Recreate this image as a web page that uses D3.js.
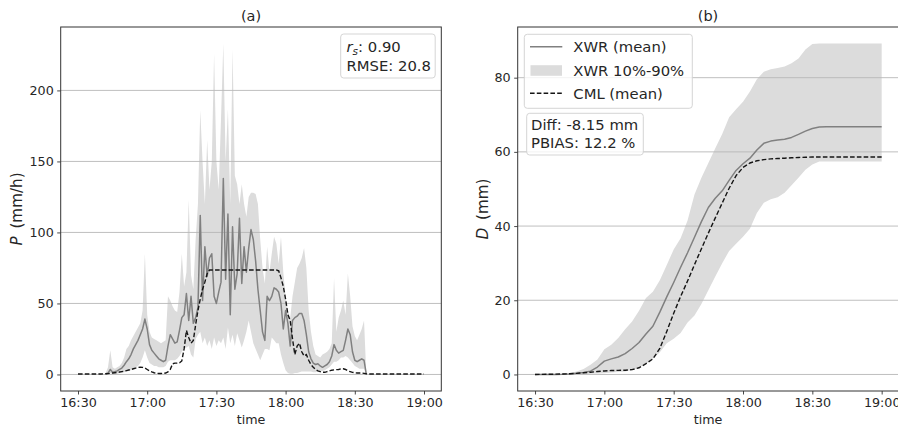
<!DOCTYPE html>
<html><head><meta charset="utf-8">
<script src="https://cdn.jsdelivr.net/npm/d3@7"></script>
<style>
body{margin:0;background:#fff}
svg{display:block}
text{font-family:"DejaVu Sans",sans-serif;fill:#262626}
</style>
</head><body>
<svg id="chart" width="898" height="429"></svg>
<script>
// ---------- DATA ----------
// x categories: minutes after 16:30
const xTickMinutes = [0, 30, 60, 90, 120, 150];
const xTickLabels = ["16:30", "17:00", "17:30", "18:00", "18:30", "19:00"];
const yTicksA = [0, 50, 100, 150, 200];
const yTicksB = [0, 20, 40, 60, 80];

// Panel (a): 1-minute rain rate (mm/h), minutes 0..150
const aMinutes = d3.range(0, 151);
const aXwrMean = [null,null,null,null,null,null,null,null,null,null,null,null,
  0.3,1,3.5,1.5,2,2.5,3.5,4.5,6.5,9,
  11,14,18,21,24,28,32,39,32,21,
  17,15,13,11,10,9,10,20,28,25,
  22,23,31,40,42,57,38,55,36,40,
  47,112,52,90,69,82,85,55,50,58,
  65,138,67,113,42,104,60,71,110,64,
  90,72,89,102,95,80,60,45,30,24,
  55,52,55,61,60,58,50,32,45,36,
  20,38,40,41,43,43,38,28,16,11,
  8,7,7.5,6,5,6,7,9,13,21,
  17,15,16,17,24,32,28,16,10,9,
  10,11,10,0,
  null,null,null,null,null,null,null,null,null,null,null,null,null,null,null,null,null,null,null,null,null,null,null,null,null];
const aXwrP90 = [null,null,null,null,null,null,null,null,null,null,null,null,
  1,5,17,5,4,5,6,8,12,18,
  20,24,27,30,33,36,45,85,42,30,
  26,25,24,23,22,23,24,55,52,48,
  45,44,58,85,62,72,123,70,60,95,
  120,186,150,120,165,130,150,226,150,130,
  180,233,150,187,120,229,140,134,120,134,
  120,111,125,128,128,127,120,95,75,64,
  90,72,85,97,92,78,97,72,55,45,
  40,55,65,75,78,82,89,75,45,30,
  20,14,13,12,14,15,16,18,22,68,
  30,40,45,52,42,71,55,34,27,24,
  28,32,38,0,
  null,null,null,null,null,null,null,null,null,null,null,null,null,null,null,null,null,null,null,null,null,null,null,null,null];
const aXwrP10 = [null,null,null,null,null,null,null,null,null,null,null,null,
  0,0.3,1,0.5,0.5,0.5,1,1,1.5,2,
  2.5,3,4,5,6,8,12,17,12,8,
  7,6,6,5,5,5,6,9,10,10,
  10,11,13,16,18,19,20,14,12,25,
  28,30,22,26,20,24,18,26,20,24,
  22,26,18,33,22,28,20,29,24,19,
  24,30,38,30,22,18,14,10,14,18,
  18,17,26,24,22,22,14,8,3,1,
  0.5,0.5,1,1,1.5,2,2,2,2,2,
  1.5,1.5,2,2,2.5,3,4,5,7,9,
  9,10,12,12,13,12,10,8,6,5,
  4,4,4,0,
  null,null,null,null,null,null,null,null,null,null,null,null,null,null,null,null,null,null,null,null,null,null,null,null,null];
const aCmlMean = [0.3,0.3,0.3,0.3,0.3,0.3,0.3,0.3,0.3,0.3,0.3,
  0.4,0.5,0.6,0.8,1.0,1.2,1.4,1.7,2.0,2.3,
  2.7,3.1,3.5,4.0,4.5,4.9,5.1,5.0,4.5,3.5,
  2.5,1.8,1.2,0.8,0.7,0.7,0.8,1.0,1.8,3.5,
  7.5,8.0,8.0,8.2,9.5,18,31,26,22,24,
  35,45,53,60,65,71,73.5,
  73.5,73.5,73.5,73.5,73.5,73.5,73.5,73.5,73.5,73.5,
  73.5,73.5,73.5,73.5,73.5,73.5,73.5,73.5,73.5,73.5,
  73.5,73.5,73.5,73.5,73.5,73.5,73.5,73.5,73.5,
  73,68,62,53,42,38,25,14,20,22,
  16,13,14,10,7,5,3.5,2.5,2,1.5,
  1.5,2,2.5,3,3.2,3.4,3.5,4,4,3.5,
  2.5,2,1.5,1.2,1,1,1,0.8,0.5,
  0.3,0.3,0.3,0.3,0.3,0.3,0.3,0.3,0.3,0.3,0.3,0.3,0.3,0.3,0.3,0.3,0.3,0.3,0.3,0.3,0.3,0.3,0.3,0.3,0.3];

// Panel (b): accumulated depth (mm), every 3 minutes 0..150
const bMinutes = d3.range(0, 151, 3);
const bXwrMean = [0,0,0,0,0.05,0.15,0.3,0.5,0.9,2.0,
  3.6,4.2,4.7,5.6,7.0,8.6,10.9,13.0,16.8,20.9,
  24.8,28.9,32.8,37.0,41.2,45.0,47.5,49.5,52.3,55.0,
  56.8,58.3,60.5,62.3,62.9,63.2,63.4,63.9,64.7,65.6,
  66.3,66.7,66.8,66.8,66.8,66.8,66.8,66.8,66.8,66.8,66.8];
const bXwrP90 = [0,0,0,0,0.1,0.4,0.8,1.5,2.6,4.0,
  6.8,8.0,9.8,12.2,14.3,17.2,20.6,22.3,25.4,29.5,
  33.7,36.7,41.5,48.5,53.0,57.0,61.0,64.8,69.3,71.5,
  73.5,76.3,79.6,81.6,82.3,82.6,83.0,83.9,85.2,87.6,
  89.1,89.2,89.2,89.2,89.2,89.2,89.2,89.2,89.2,89.2,89.2];
const bXwrP10 = [0,0,0,0,0,0.05,0.1,0.15,0.2,0.25,
  0.35,0.5,0.65,0.8,1.2,1.8,2.8,4.2,6.0,8.4,
  9.6,11.2,14.0,15.9,19.0,22.7,26.4,30.0,33.3,35.2,
  37.1,39.3,43.5,46.3,47.2,47.8,49.0,51.0,53.0,55.2,
  56.6,57.4,57.4,57.4,57.4,57.4,57.4,57.4,57.4,57.4,57.4];
const bCmlMean = [0,0.03,0.05,0.08,0.12,0.2,0.3,0.45,0.6,0.8,
  0.95,1.05,1.1,1.15,1.3,1.8,2.9,4.2,7.0,11.6,
  16.5,21.0,25.2,29.6,33.9,38.1,42.2,46.2,50.2,53.6,
  55.8,57.0,57.6,57.9,58.1,58.2,58.3,58.4,58.5,58.55,
  58.6,58.6,58.6,58.6,58.6,58.6,58.6,58.6,58.6,58.6,58.6];

const statsA = {rs: "0.90", rmse: "20.8"};
const statsB = ["Diff: -8.15 mm", "PBIAS: 12.2 %"];
const legendLabels = ["XWR (mean)", "XWR 10%-90%", "CML (mean)"];

// ---------- STYLE ----------
const bandColor = "#dcdcdc", meanColor = "#808080", cmlColor = "#151515";
const gridColor = "#b8b8b8", spineColor = "#333";
const svg = d3.select("#chart");

function panel(opt) {
  const {x, y, yTicks, minutes, mean, lo, hi, cml, id} = opt;
  const [x0, x1] = x.range(); const [y1, y0] = y.range();
  const g = svg.append("g");
  g.append("clipPath").attr("id", id).append("rect")
    .attr("x", x0).attr("y", y0).attr("width", x1 - x0).attr("height", y1 - y0);
  const body = g.append("g").attr("clip-path", `url(#${id})`);
  const rows = minutes.map((m, i) => ({m, mean: mean[i], lo: lo[i], hi: hi[i], cml: cml[i]}));
  body.append("path").datum(rows)
    .attr("d", d3.area().defined(d => d.hi != null).x(d => x(d.m)).y0(d => y(d.lo)).y1(d => y(d.hi)))
    .attr("fill", bandColor);
  body.selectAll("line.grid").data(yTicks).join("line").attr("class", "grid")
    .attr("x1", x0).attr("x2", x1).attr("y1", d => y(d)).attr("y2", d => y(d))
    .attr("stroke", gridColor).attr("stroke-width", 0.9);
  body.append("path").datum(rows)
    .attr("d", d3.line().defined(d => d.mean != null).x(d => x(d.m)).y(d => y(d.mean)))
    .attr("fill", "none").attr("stroke", meanColor).attr("stroke-width", 1.5).attr("stroke-linejoin", "round");
  body.append("path").datum(rows)
    .attr("d", d3.line().x(d => x(d.m)).y(d => y(d.cml)))
    .attr("fill", "none").attr("stroke", cmlColor).attr("stroke-width", 1.4).attr("stroke-dasharray", "4.6,2.2");
  // axes
  const ax = g.append("g").attr("transform", `translate(0,${y1})`)
    .call(d3.axisBottom(x).tickValues(xTickMinutes).tickFormat((d, i) => xTickLabels[i]).tickSize(3.5).tickPadding(3.5));
  const ay = g.append("g").attr("transform", `translate(${x0},0)`)
    .call(d3.axisLeft(y).tickValues(yTicks).tickSize(3.5).tickPadding(3.5));
  [ax, ay].forEach(a => {
    a.select(".domain").remove();
    a.selectAll(".tick line").attr("stroke", spineColor).attr("stroke-width", 0.9);
    a.selectAll(".tick text").attr("font-size", 12.7).attr("fill", "#262626").style("font-family", "DejaVu Sans");
  });
  g.append("rect").attr("x", x0).attr("y", y0).attr("width", x1 - x0).attr("height", y1 - y0)
    .attr("fill", "none").attr("stroke", spineColor).attr("stroke-width", 1);
  return g;
}

// ---------- PANEL A ----------
const xA = d3.scaleLinear().domain([-7.5, 157.5]).range([60.7, 441.3]);
const yA = d3.scaleLinear().domain([-11.65, 244.65]).range([391, 27]);
const gA = panel({x: xA, y: yA, yTicks: yTicksA, minutes: aMinutes, mean: aXwrMean, lo: aXwrP10, hi: aXwrP90, cml: aCmlMean, id: "clipA"});
gA.append("text").attr("x", 251).attr("y", 21.4).attr("text-anchor", "middle").attr("font-size", 14.5).text("(a)");
gA.append("text").attr("x", 251).attr("y", 423.5).attr("text-anchor", "middle").attr("font-size", 12.7).text("time");
const ylA = gA.append("text").attr("transform", "translate(21.5,209) rotate(-90)").attr("text-anchor", "middle").attr("font-size", 15.2);
ylA.append("tspan").attr("font-style", "italic").text("P");
ylA.append("tspan").text("\u2009 (mm/h)");
// stats box
gA.append("rect").attr("x", 340.7).attr("y", 34).attr("width", 94.5).attr("height", 44).attr("rx", 3)
  .attr("fill", "#fff").attr("fill-opacity", 0.8).attr("stroke", "#d0d0d0").attr("stroke-width", 0.9);
const t1 = gA.append("text").attr("x", 346.5).attr("y", 52.3).attr("font-size", 14.8);
t1.append("tspan").attr("font-style", "italic").text("r");
t1.append("tspan").attr("font-style", "italic").attr("font-size", 10.5).attr("dy", 3).text("s");
t1.append("tspan").attr("dy", -3).text(": " + statsA.rs);
gA.append("text").attr("x", 346.5).attr("y", 70.7).attr("font-size", 14.8).text("RMSE: " + statsA.rmse);

// ---------- PANEL B ----------
const xB = d3.scaleLinear().domain([-7.5, 157.5]).range([517.7, 899]);
const yB = d3.scaleLinear().domain([-4.46, 93.66]).range([391, 27]);
const gB = panel({x: xB, y: yB, yTicks: yTicksB, minutes: bMinutes, mean: bXwrMean, lo: bXwrP10, hi: bXwrP90, cml: bCmlMean, id: "clipB"});
gB.append("text").attr("x", 708).attr("y", 21.4).attr("text-anchor", "middle").attr("font-size", 14.5).text("(b)");
gB.append("text").attr("x", 708).attr("y", 423.5).attr("text-anchor", "middle").attr("font-size", 12.7).text("time");
const ylB = gB.append("text").attr("transform", "translate(487.5,209) rotate(-90)").attr("text-anchor", "middle").attr("font-size", 15.2);
ylB.append("tspan").attr("font-style", "italic").text("D");
ylB.append("tspan").text("\u2009 (mm)");
// legend
gB.append("rect").attr("x", 524.3).attr("y", 34.3).attr("width", 168).attr("height", 74).attr("rx", 3)
  .attr("fill", "#fff").attr("fill-opacity", 0.8).attr("stroke", "#d0d0d0").attr("stroke-width", 0.9);
const lgY = [46.7, 70.5, 93.3];
gB.append("line").attr("x1", 530).attr("x2", 562.3).attr("y1", lgY[0]).attr("y2", lgY[0])
  .attr("stroke", meanColor).attr("stroke-width", 1.5);
gB.append("rect").attr("x", 530.5).attr("y", lgY[1] - 5.3).attr("width", 31.5).attr("height", 10.6).attr("fill", bandColor);
gB.append("line").attr("x1", 530).attr("x2", 562.3).attr("y1", lgY[2]).attr("y2", lgY[2])
  .attr("stroke", cmlColor).attr("stroke-width", 1.4).attr("stroke-dasharray", "4.6,2.2");
legendLabels.forEach((s, i) => {
  gB.append("text").attr("x", 573.3).attr("y", lgY[i] + 5.6).attr("font-size", 14.8).text(s);
});
gB.append("rect").attr("x", 526.7).attr("y", 113.3).attr("width", 116.6).attr("height", 41.7).attr("rx", 3)
  .attr("fill", "#fff").attr("fill-opacity", 0.8).attr("stroke", "#d0d0d0").attr("stroke-width", 0.9);
statsB.forEach((s, i) => {
  gB.append("text").attr("x", 531).attr("y", 130 + i * 17.7).attr("font-size", 14.8).text(s);
});
</script>
</body></html>
